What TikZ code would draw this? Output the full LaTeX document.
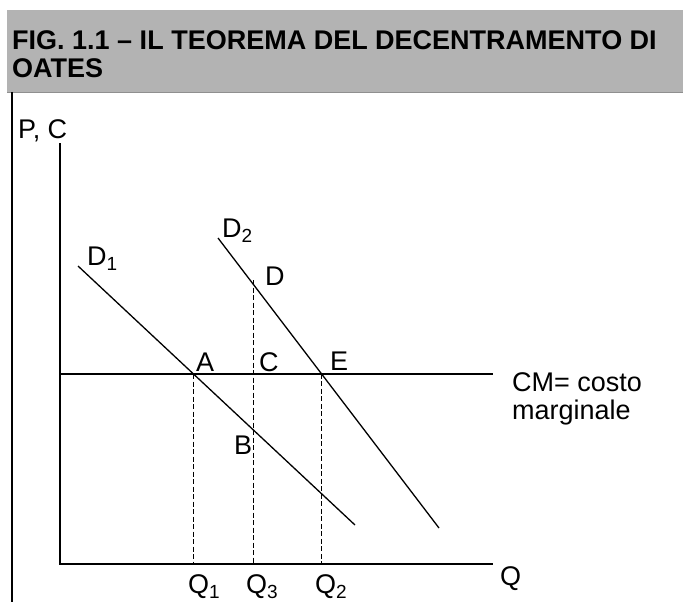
\documentclass[tikz,border=0pt]{standalone}
\usepackage{fontspec}
\setmainfont{Liberation Sans}
\usetikzlibrary{intersections}
\definecolor{headgray}{RGB}{179,179,179}
\newcommand{\lowsub}[1]{\raisebox{-5pt}{\fontsize{19}{19}\selectfont #1}}
\begin{document}
\begin{tikzpicture}[x=1pt,y=-1pt,
  lbl/.style={anchor=base west,inner sep=0pt,font=\fontsize{27}{30}\selectfont},
  axisline/.style={line width=1.6pt},
  demand/.style={line width=1.3pt},
  guide/.style={line width=1pt,dash pattern=on 5pt off 2.5pt}]
\useasboundingbox (0,0) rectangle (683,602);
\fill[headgray] (7,10) rectangle (683,92);
\draw[headgray!80!black,line width=0.8pt] (7,92) -- (683,92);
\draw[line width=1.4pt] (12,92) -- (12,602);
\node (title) [anchor=north west,inner sep=0pt,align=left,
  font=\fontsize{27}{28}\selectfont\bfseries] at (12,30)
  {FIG. 1.1 -- IL TEOREMA DEL DECENTRAMENTO DI\\OATES};
\coordinate (O) at (60,564);
\coordinate (ytop) at (60,143);
\coordinate (xend) at (493,564);
\coordinate (cmL) at (60,374);
\coordinate (cmR) at (493,374);
\coordinate (d1s) at (78,266);
\coordinate (d1e) at (355,525);
\coordinate (d2s) at (218,238);
\coordinate (d2e) at (439,528);
\draw[axisline] (ytop) -- (O) -- (xend);
\draw[demand,name path=cm] (cmL) -- (cmR);
\draw[demand,name path=d1] (d1s) -- (d1e);
\draw[demand,name path=d2] (d2s) -- (d2e);
\path[name intersections={of=d1 and cm,by=ptA}];
\path[name intersections={of=d2 and cm,by=ptE}];
\coordinate (ptD) at (253,280);
\draw[guide] (ptA) -- (ptA |- O);
\draw[guide] (ptD) -- (ptD |- O);
\draw[guide] (ptE) -- (ptE |- O);
\node[lbl] (pc) at (18,138) {P, C};
\node[lbl] (q) at (500,585) {Q};
\node[lbl] (cmtxt) at (512,391) {CM= costo};
\node[lbl] (cmtxt2) at (512,419) {marginale};
\node[lbl] (dd1) at (87,265) {D\lowsub{1}};
\node[lbl] (dd2) at (222,237) {D\lowsub{2}};
\node[lbl] (lD) at (265,285) {D};
\node[lbl] (lA) at (196,371) {A};
\node[lbl] (lC) at (259,371) {C};
\node[lbl] (lE) at (330,370) {E};
\node[lbl] (lB) at (234,454) {B};
\node[lbl] (q1) at (188,593) {Q\lowsub{1}};
\node[lbl] (q3) at (246,593) {Q\lowsub{3}};
\node[lbl] (q2) at (315,593) {Q\lowsub{2}};
\end{tikzpicture}
\end{document}
